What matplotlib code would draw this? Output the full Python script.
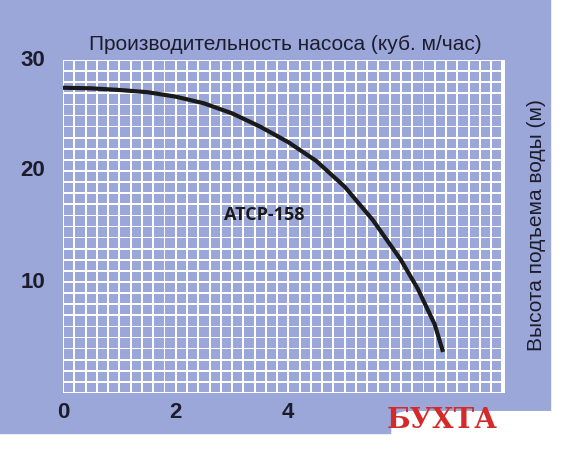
import numpy as np
import matplotlib
matplotlib.use("Agg")
import matplotlib.pyplot as plt
from matplotlib.patches import Rectangle, FancyBboxPatch

# кривая насоса (читано с картинки)
flow = [0.0, 0.5, 1.0, 1.5, 2.0, 2.5, 3.0, 3.5, 4.0, 4.5, 5.0, 5.5, 6.0, 6.3, 6.6, 6.75]
head = [27.5, 27.45, 27.3, 27.1, 26.7, 26.1, 25.2, 24.0, 22.6, 20.9, 18.6, 15.6, 12.0, 9.4, 6.2, 3.7]
xticks = [0, 2, 4, 6]
yticks = [10, 20, 30]
BLUE = "#9ba7d8"
plt.rcParams["font.family"] = ["Liberation Sans", "DejaVu Sans"]

W, H = 570, 453
fig = plt.figure(figsize=(W / 100, H / 100), dpi=100, facecolor="white")
fig.patches.append(Rectangle((0, 20 / H), 550 / W, 1, transform=fig.transFigure,
                             color=BLUE, zorder=0))
fig.patches.append(FancyBboxPatch((392 / W, -0.05), 0.5, 64 / H,
                                  boxstyle="round,pad=0,rounding_size=0.03",
                                  transform=fig.transFigure, color="white", zorder=0.5))

ax = fig.add_axes([63 / W, 60 / H, 442 / W, 333 / H])
ax.set_zorder(3)
ax.set_facecolor("white")
ax.set_xlim(0, 7.85)
ax.set_ylim(0, 30)
for s in ax.spines.values():
    s.set_visible(False)
# синие клетки на белом фоне
for i, xi in enumerate(np.arange(0, 7.8, 0.2)):
    for yi in range(30):
        ax.add_patch(Rectangle((xi + 0.02, yi + 0.08), 0.165, 0.84, color=BLUE, lw=0, zorder=1))
ax.set_xticks([]); ax.set_yticks([])

ax.plot(flow, head, color="#1a1a1a", lw=3, solid_capstyle="butt", zorder=3)
ax.text(3.57, 16.0, "ATCP-158", fontsize=13, fontweight="bold", ha="center", va="center",
        color="#1a1a1a", zorder=4, family="Open Sans")

for v in xticks:
    x = ax.transData.transform((v, 0))[0] / W
    if v == 6:
        continue
    fig.text(x, 1 - 412 / H, str(v), fontsize=16, fontweight="bold", ha="center", va="center",
             color="#1c1c2c")
for v in yticks:
    y = ax.transData.transform((0, v))[1] / H
    fig.text(33 / W, y, str(v), fontsize=16, fontweight="bold", ha="center", va="center",
             color="#1c1c2c")

fig.text(285 / W, 1 - 44 / H, "Производительность насоса (куб. м/час)", fontsize=15,
         ha="center", va="center", color="#1c1c2c")
fig.text(536 / W, 1 - 225 / H, "Высота подъема воды (м)", fontsize=15, rotation=90,
         ha="center", va="center", color="#1c1c2c")
fig.text(442 / W, 1 - 420 / H, "БУХТА", fontsize=20, fontweight="bold", family="DejaVu Serif",
         ha="center", va="center", color="#d42a2a")

fig.savefig("out.png", dpi=100)
